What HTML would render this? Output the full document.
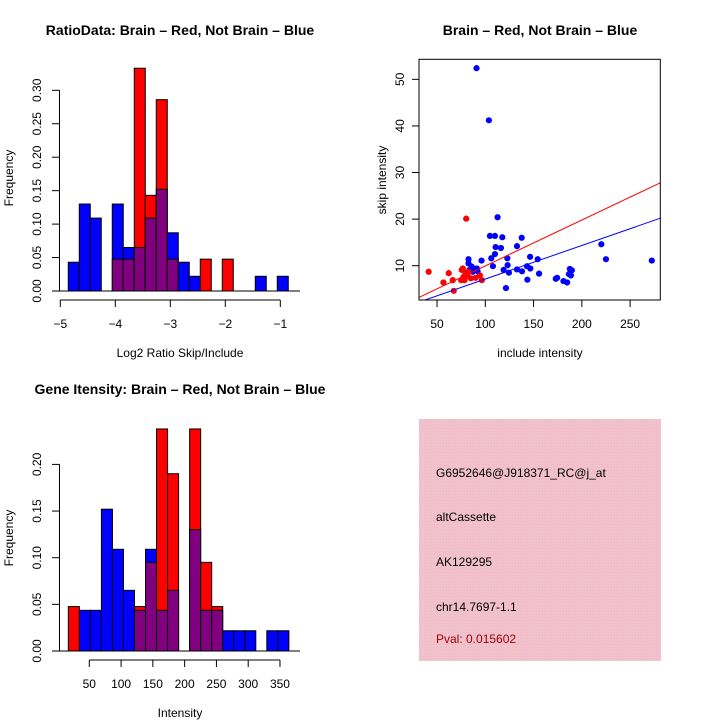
<!DOCTYPE html>
<html><head><meta charset="utf-8"><style>
html,body{margin:0;padding:0;background:#fff;}
svg{display:block;font-family:"Liberation Sans",sans-serif;}
</style></head><body>
<svg id="c" width="720" height="720" viewBox="0 0 720 720" xmlns="http://www.w3.org/2000/svg">
<defs>
<pattern id="hatch" width="3" height="3" patternUnits="userSpaceOnUse">
<rect width="3" height="3" fill="#f2c0ca"/><rect width="1" height="1" fill="#e6ccd2"/><rect x="2" y="2" width="1" height="1" fill="#f7b8c6"/>
</pattern>
</defs>
<rect width="720" height="720" fill="#fff"/>
<text x="180" y="35" text-anchor="middle" font-size="14" font-weight="bold">RatioData: Brain – Red, Not Brain – Blue</text>
<text x="540" y="35" text-anchor="middle" font-size="14" font-weight="bold">Brain – Red, Not Brain – Blue</text>
<text x="180" y="394" text-anchor="middle" font-size="14" font-weight="bold">Gene Itensity: Brain – Red, Not Brain – Blue</text>
<text x="180" y="357" text-anchor="middle" font-size="12">Log2 Ratio Skip/Include</text>
<text x="180" y="717" text-anchor="middle" font-size="12">Intensity</text>
<text transform="translate(13,178) rotate(-90)" text-anchor="middle" font-size="12">Frequency</text>
<text transform="translate(13,538) rotate(-90)" text-anchor="middle" font-size="12">Frequency</text>
<text x="540" y="357" text-anchor="middle" font-size="12">include intensity</text>
<text transform="translate(386,180) rotate(-90)" text-anchor="middle" font-size="12">skip intensity</text>
<g>
<rect x="419" y="419" width="242" height="242" fill="url(#hatch)"/>
<text x="436" y="477" font-size="12">G6952646@J918371_RC@j_at</text>
<text x="436" y="521" font-size="12">altCassette</text>
<text x="436" y="566" font-size="12">AK129295</text>
<text x="436" y="611" font-size="12">chr14.7697-1.1</text>
<text x="436" y="643" font-size="12" fill="#a00000">Pval: 0.015602</text>
</g>
</svg>
<script>
// ---- Ratio histogram data ----
const ratioStart = -4.855, ratioWidth = 0.2;
const ratioBlue = [0.043,0.13,0.109,0,0.13,0.065,0.065,0.109,0.152,0.087,0.043,0.022,0,0,0,0,0,0.022,0,0.022];
const ratioRed  = [0,0,0,0,0.0476,0.0476,0.333,0.143,0.286,0.0476,0,0,0.0476,0,0.0476,0,0,0,0,0];
const ratioXTicks = [-5,-4,-3,-2,-1];
const ratioYTicks = [0,0.05,0.10,0.15,0.20,0.25,0.30];
const ratioYLabels = ["0.00","0.05","0.10","0.15","0.20","0.25","0.30"];
// ---- Intensity histogram data ----
const intStart = 17, intWidth = 17.35;
const intBlue = [0,0.0436,0.0436,0.152,0.109,0.065,0.0436,0.109,0.0436,0.065,0,0.13,0.0436,0.0436,0.0217,0.0217,0.0217,0,0.0217,0.0217];
const intRed  = [0.0476,0,0,0,0,0,0.0476,0.095,0.238,0.19,0,0.238,0.095,0.0476,0,0,0,0,0,0];
const intXTicks = [50,100,150,200,250,300,350];
const intYTicks = [0,0.05,0.10,0.15,0.20];
const intYLabels = ["0.00","0.05","0.10","0.15","0.20"];
// ---- Scatter data ----
const blueX = [90.9,103.7,112.7,104.8,110,117.6,137.7,132.8,110.7,116.2,110,106.2,122.8,82.6,96.1,146.4,154.3,220.2,225,272.5,107.9,123.1,119,132.8,138,143.2,146.6,124.5,155.7,143.6,121.4,173,174.4,181,184.8,187.6,189.7,186.6,188.7,82.6,86,91.2,87,92,83.6];
const blueY = [52.4,41.2,20.4,16.4,16.4,16.1,16,14.2,14,13.8,12.5,11.6,11.6,11.4,11.1,11.9,11.4,14.6,11.4,11.1,9.9,10.1,9.1,9.2,8.8,9.9,9.4,8.5,8.3,7,5.2,7.2,7.4,6.7,6.4,9.3,9,8.2,7.9,10.5,9.8,9.4,8.7,8.8,9.1];
const redX = [41.3,56.6,62.1,66.3,67.3,80.2,75.6,76.7,79.5,75,77.4,81.5,85,89.9,94.4,96.4,82.6,78.4];
const redY = [8.7,6.4,8.4,6.9,4.6,20.1,9.1,9.4,8.5,6.9,7.6,7.8,7.3,7.4,7.9,6.9,8.7,6.9];
const redFit = [0.12,0.0984];
const blueFit = [-0.06,0.072];
const scXTicks = [50,100,150,200,250];
const scYTicks = [10,20,30,40,50];

const NS = "http://www.w3.org/2000/svg";
const svg = document.getElementById('c');
function mk(tag, attrs, parent){const e=document.createElementNS(NS,tag);for(const k in attrs)e.setAttribute(k,attrs[k]);(parent||svg).appendChild(e);return e;}

function hist(opts){
  const g = mk('g',{});
  
  
  const X = v => opts.x0px + (v - opts.x0v) * opts.xs;
  const Y = v => opts.base - v * opts.ys;
  mk('line',{x1:52,x2:300,y1:opts.base,y2:opts.base,stroke:'#000','stroke-width':1},g);
  for(let k=0;k<opts.blue.length;k++){
    const b=opts.blue[k], r=opts.red[k];
    const xl=X(opts.start+k*opts.width), xr=X(opts.start+(k+1)*opts.width);
    const hi=Math.max(b,r), lo=Math.min(b,r);
    if(hi<=0) continue;
    const bar=mk('rect',{x:xl,y:Y(hi),width:xr-xl,height:Y(0)-Y(hi),fill:b>=r?'#0000ff':'#ff0000',stroke:'#000','stroke-width':1},g);
    
    
    if(lo>0){
      const ov=mk('rect',{x:xl,y:Y(lo),width:xr-xl,height:Y(0)-Y(lo),fill:'#800080',stroke:'#000','stroke-width':1},g);
      
      
    }
  }
  const xa=mk('g',{},g);
  
  
  mk('line',{x1:X(opts.xt[0]),x2:X(opts.xt[opts.xt.length-1]),y1:opts.base+9,y2:opts.base+9,stroke:'#000'},xa);
  opts.xt.forEach(t=>{
    mk('line',{x1:X(t),x2:X(t),y1:opts.base+9,y2:opts.base+16,stroke:'#000'},xa);
    const tx=mk('text',{x:X(t),y:opts.base+37,'text-anchor':'middle','font-size':12},xa);
    tx.textContent=String(t).replace('-','−');
    
    
  });
  const ya=mk('g',{},g);
  
  
  mk('line',{x1:59.5,x2:59.5,y1:Y(opts.yt[0]),y2:Y(opts.yt[opts.yt.length-1]),stroke:'#000'},ya);
  opts.yt.forEach((t,i)=>{
    mk('line',{x1:52,x2:59.5,y1:Y(t),y2:Y(t),stroke:'#000'},ya);
    const tx=mk('text',{transform:`translate(41,${Y(t)}) rotate(-90)`,'text-anchor':'middle','font-size':12},ya);
    tx.textContent=opts.yl[i];
    
    
  });
}
hist({name:'ratio-histogram',blue:ratioBlue,red:ratioRed,start:ratioStart,width:ratioWidth,x0v:-5,x0px:60.3,xs:55,base:291,ys:669,xt:ratioXTicks,yt:ratioYTicks,yl:ratioYLabels});
hist({name:'intensity-histogram',blue:intBlue,red:intRed,start:intStart,width:intWidth,x0v:50,x0px:89.3,xs:0.6356,base:651,ys:933,xt:intXTicks,yt:intYTicks,yl:intYLabels});

(function(){
  const g=mk('g',{});
  
  
  const xmin=31.3,xmax=281.3,ymin=2.64,ymax=54.3;
  const L=419,R=660.3,T=59.3,B=300;
  const X=v=>L+(v-xmin)/(xmax-xmin)*(R-L);
  const Y=v=>B-(v-ymin)/(ymax-ymin)*(B-T);
  const cp=mk('clipPath',{id:'scclip'},g);
  mk('rect',{x:L,y:T,width:R-L,height:B-T},cp);
  const pts=mk('g',{'clip-path':'url(#scclip)'},g);
  blueX.forEach((x,i)=>{
    const c=mk('circle',{cx:X(x),cy:Y(blueY[i]),r:3.1,fill:'#0000ff'},pts);
    
    
  });
  redX.forEach((x,i)=>{
    const c=mk('circle',{cx:X(x),cy:Y(redY[i]),r:3.1,fill:'#ff0000'},pts);
    
    
  });
  const rl=mk('line',{x1:X(xmin),y1:Y(redFit[0]+redFit[1]*xmin),x2:X(xmax),y2:Y(redFit[0]+redFit[1]*xmax),stroke:'#ff0000','stroke-width':1},pts);
  
  
  const bl=mk('line',{x1:X(xmin),y1:Y(blueFit[0]+blueFit[1]*xmin),x2:X(xmax),y2:Y(blueFit[0]+blueFit[1]*xmax),stroke:'#0000ff','stroke-width':1},pts);
  
  
  const box=mk('rect',{x:L,y:T,width:R-L,height:B-T,fill:'none',stroke:'#000','stroke-width':1},g);
  
  
  scXTicks.forEach(t=>{
    mk('line',{x1:X(t),x2:X(t),y1:B,y2:B+7,stroke:'#000'},g);
    const tx=mk('text',{x:X(t),y:B+28,'text-anchor':'middle','font-size':12},g);
    tx.textContent=t;
    
    
  });
  scYTicks.forEach(t=>{
    mk('line',{x1:L-7,x2:L,y1:Y(t),y2:Y(t),stroke:'#000'},g);
    const tx=mk('text',{transform:`translate(404,${Y(t)}) rotate(-90)`,'text-anchor':'middle','font-size':12},g);
    tx.textContent=t;
    
    
  });
})();
</script>
</body></html>
